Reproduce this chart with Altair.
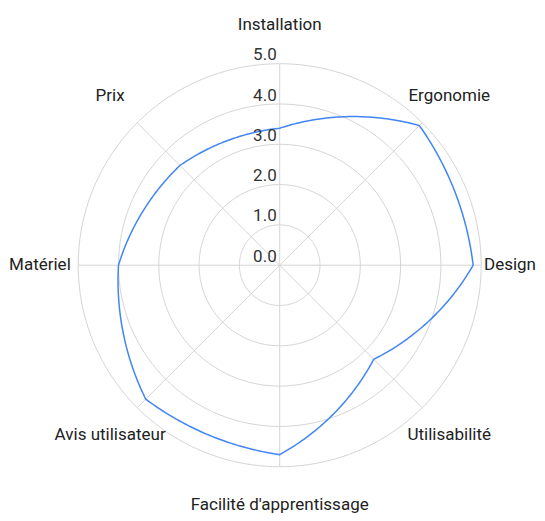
import altair as alt
import pandas as pd

categories = ["Installation", "Ergonomie", "Design", "Utilisabilité",
              "Facilité d'apprentissage", "Avis utilisateur", "Matériel", "Prix"]
values = [3.4, 4.9, 4.8, 3.3, 4.7, 4.7, 4.0, 3.5]
rings = [1, 2, 3, 4, 5]
ticks = [0, 1, 2, 3, 4, 5]
label_radius = 5.95

n = len(categories)
W, H = 529, 505
cx, cy, unit = 271.7, 257.2, 40.3
xs = alt.Scale(domain=[-cx / unit, (W - cx) / unit], nice=False, zero=False)
ys = alt.Scale(domain=[-(H - cy) / unit, cy / unit], nice=False, zero=False)
x_label_max = (W - cx - 27) / unit

series = pd.DataFrame({
    "i": list(range(n)),
    "cat": categories,
    "v": values,
    "v2": values[1:] + values[:1],
})
cats = pd.DataFrame({"i": list(range(n)), "cat": categories})
ring_df = pd.DataFrame({"r": rings})
tick_df = pd.DataFrame({"t": ticks})

X = lambda f: alt.X(f, type="quantitative", scale=xs, axis=None)
Y = lambda f: alt.Y(f, type="quantitative", scale=ys, axis=None)

grid_color = "#d5d5d5"
STEP = "2 * PI / %d" % n
ALPHA = 0.63  # curvature of the connecting segments (0 = straight, 1 = polar spiral)

ring_layer = alt.Chart(ring_df).transform_calculate(
    a="sequence(0, 361, 2)"
).transform_flatten(["a"]).transform_calculate(
    x="datum.r * sin(datum.a * PI / 180)",
    y="datum.r * cos(datum.a * PI / 180)",
).mark_line(color=grid_color, strokeWidth=1).encode(
    x=X("x"), y=Y("y"), detail="r:N", order="a:Q"
)

spoke_layer = alt.Chart(cats).transform_calculate(
    x0="0", y0="0",
    x="5 * sin(datum.i * %s)" % STEP,
    y="5 * cos(datum.i * %s)" % STEP,
).mark_rule(color=grid_color, strokeWidth=1).encode(
    x=X("x0"), y=Y("y0"), x2="x:Q", y2="y:Q"
)

series_layer = alt.Chart(series).transform_calculate(
    t="sequence(0, 1.0001, 0.02)"
).transform_flatten(["t"]).transform_calculate(
    ang="(datum.i + datum.t) * %s" % STEP,
    r="datum.v + (datum.v2 - datum.v) * datum.t",
    ord="datum.i + datum.t",
    ax="datum.v * sin(datum.i * %s)" % STEP,
    ay="datum.v * cos(datum.i * %s)" % STEP,
    bx="datum.v2 * sin((datum.i + 1) * %s)" % STEP,
    by="datum.v2 * cos((datum.i + 1) * %s)" % STEP,
).transform_calculate(
    x="%f * datum.r * sin(datum.ang) + %f * (datum.ax + (datum.bx - datum.ax) * datum.t)" % (ALPHA, 1 - ALPHA),
    y="%f * datum.r * cos(datum.ang) + %f * (datum.ay + (datum.by - datum.ay) * datum.t)" % (ALPHA, 1 - ALPHA),
).mark_line(color="#4285F4", strokeWidth=1.5).encode(
    x=X("x"), y=Y("y"), order="ord:Q"
)

label_layer = alt.Chart(cats).transform_calculate(
    x="min(%f * sin(datum.i * %s), %f)" % (label_radius, STEP, x_label_max),
    y="%f * cos(datum.i * %s)" % (label_radius, STEP),
).mark_text(font="Roboto", fontSize=17, color="#222222", align="center", baseline="middle").encode(
    x=X("x"), y=Y("y"), text="cat:N"
)

tick_layer = alt.Chart(tick_df).transform_calculate(
    x0="0"
).mark_text(font="Roboto", fontSize=17, color="#333333", align="right",
            baseline="alphabetic", dx=-3, dy=-3.5).encode(
    x=X("x0"), y=Y("t"), text=alt.Text("t:Q", format=".1f")
)

chart = alt.layer(ring_layer, spoke_layer, series_layer, label_layer, tick_layer).properties(
    width=W, height=H,
    autosize=alt.AutoSizeParams(type="none"),
    padding=0,
    background="white",
).configure_view(strokeWidth=0)

chart.save("out.html", embed_options={"renderer": "svg", "actions": False})
